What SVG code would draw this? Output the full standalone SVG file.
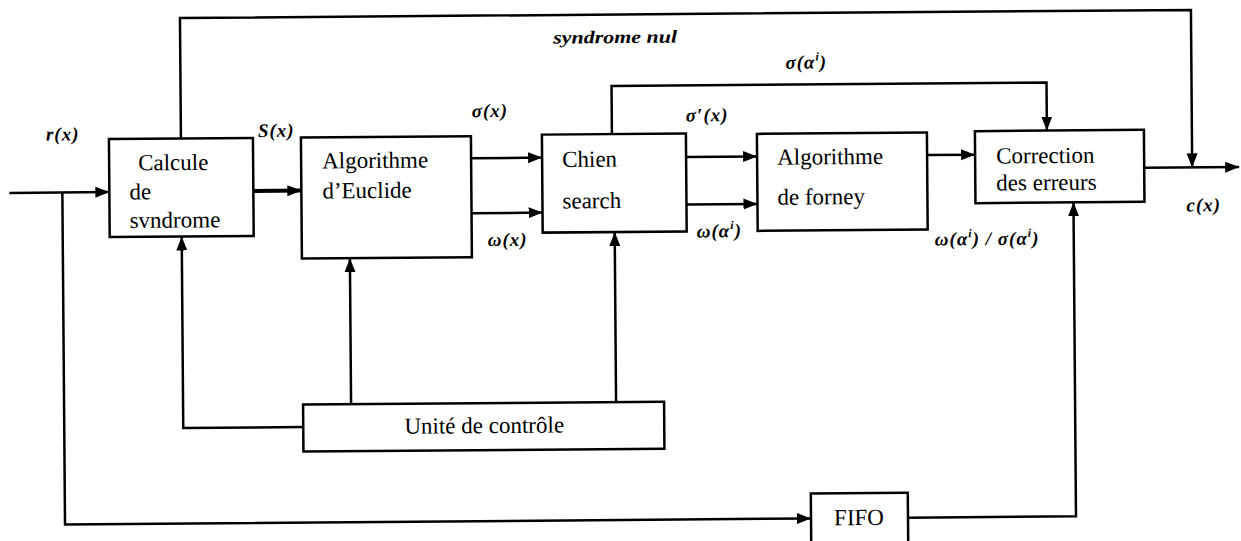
<svg xmlns="http://www.w3.org/2000/svg" width="1241" height="541" viewBox="0 0 1241 541">
<defs>
<marker id="ah" markerUnits="userSpaceOnUse" markerWidth="15" markerHeight="12" refX="14" refY="6" orient="auto">
<path d="M0,0.5 L14,6 L0,11.5 z" fill="#000"/>
</marker>
<style>
.box{fill:#fff;stroke:#000;stroke-width:2.5}
.arr{fill:none;stroke:#000;stroke-width:2.5;marker-end:url(#ah)}
text{font-family:'Liberation Serif','DejaVu Serif','Times New Roman',serif;fill:#000}
.nt{font-size:23px}
.lb{font-size:19px;font-style:italic;font-weight:bold;letter-spacing:1px}
.sup{font-size:12px}
</style>
</defs>
<rect width="1241" height="541" fill="#fff"/>
<g transform="rotate(-0.46 620 270)">
<g id="connectors">
<path class="arr" d="M10 188 H110"/>
<path class="arr" d="M63 188 V520 H809"/>
<path class="arr" d="M254 188 H302" style="stroke-width:4"/>
<path class="arr" d="M472 157 H543"/>
<path class="arr" d="M472 212 H543"/>
<path class="arr" d="M687 157.5 H758"/>
<path class="arr" d="M687 205 H758"/>
<path class="arr" d="M928 157.5 H976"/>
<path class="arr" d="M613 134 V86 H1048 V134"/>
<path class="arr" d="M182 135 V14.5 H1193 V172"/>
<path class="arr" d="M1145 172 H1240"/>
<path class="arr" d="M906 520 H1074 V206"/>
<path class="arr" d="M302 424.5 H182 V233"/>
<path class="arr" d="M350 402 V256"/>
<path class="arr" d="M615 402 V232"/>
</g>
<g id="labels">
<text class="lb" x="47" y="136">r(x)</text>
<text class="lb" x="259" y="134">S(x)</text>
<text class="lb" x="555" y="43" textLength="124" lengthAdjust="spacingAndGlyphs" style="font-size:18px;letter-spacing:0">syndrome nul</text>
<text class="lb" x="473" y="116">σ(x)</text>
<text class="lb" x="488" y="245">ω(x)</text>
<text class="lb" x="687" y="122">σ′(x)</text>
<text class="lb" x="787" y="70">σ(α<tspan class="sup" dy="-8">i</tspan><tspan dy="8">)</tspan></text>
<text class="lb" x="697" y="238">ω(α<tspan class="sup" dy="-8">i</tspan><tspan dy="8">)</tspan></text>
<text class="lb" x="935" y="248">ω(α<tspan class="sup" dy="-8">i</tspan><tspan dy="8">) / σ(α</tspan><tspan class="sup" dy="-8">i</tspan><tspan dy="8">)</tspan></text>
<text class="lb" x="1187" y="216">c(x)</text>
</g>
<g id="calcule">
<rect class="box" x="110" y="135" width="144" height="98"/>
<text class="nt" x="139" y="166.5">Calcule</text>
<text class="nt" x="130" y="195.5">de</text>
<text class="nt" x="130" y="224">svndrome</text>
</g>
<g id="euclide">
<rect class="box" x="302" y="135" width="170" height="121"/>
<text class="nt" x="323" y="166">Algorithme</text>
<text class="nt" x="323" y="196">d’Euclide</text>
</g>
<g id="chien">
<rect class="box" x="543" y="134" width="144" height="98"/>
<text class="nt" x="563" y="166.5">Chien</text>
<text class="nt" x="563" y="208">search</text>
</g>
<g id="forney">
<rect class="box" x="758" y="135" width="170" height="97"/>
<text class="nt" x="778" y="166">Algorithme</text>
<text class="nt" x="778" y="206">de forney</text>
</g>
<g id="correction">
<rect class="box" x="976" y="134" width="169" height="72"/>
<text class="nt" x="997" y="166.5">Correction</text>
<text class="nt" x="997" y="193.5">des erreurs</text>
</g>
<g id="controle">
<rect class="box" x="302" y="402" width="361" height="47"/>
<text class="nt" x="483" y="432" text-anchor="middle">Unité de contrôle</text>
</g>
<g id="fifo">
<rect class="box" x="809" y="495" width="97" height="60"/>
<text class="nt" x="857" y="527" text-anchor="middle">FIFO</text>
</g>
</g>
</svg>
